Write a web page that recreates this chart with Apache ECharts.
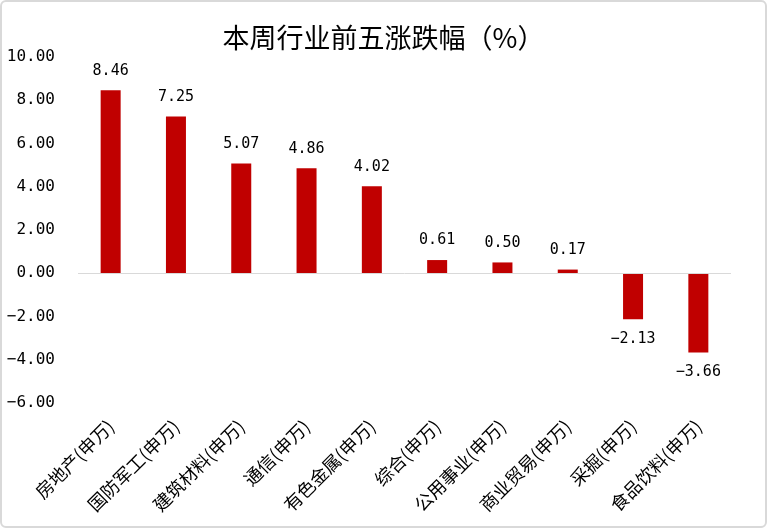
<!DOCTYPE html>
<html><head><meta charset="utf-8">
<script src="https://cdn.jsdelivr.net/npm/echarts@6/dist/echarts.min.js"></script>
<style>html,body{margin:0;padding:0;background:#fff;}#c{width:767px;height:528px;}
#frame{position:absolute;left:0;top:0;width:763px;height:524px;border:2px solid #d9d9d9;border-radius:6px;pointer-events:none;}</style>
</head><body><div id="c"></div><div id="frame"></div>
<script>
const categories = ['房地产(申万)','国防军工(申万)','建筑材料(申万)','通信(申万)','有色金属(申万)','综合(申万)','公用事业(申万)','商业贸易(申万)','采掘(申万)','食品饮料(申万)'];
const values = [8.46, 7.25, 5.07, 4.86, 4.02, 0.61, 0.50, 0.17, -2.13, -3.66];
const yMin = -6, yMax = 10, yStep = 2;
const font = '"Noto Sans CJK SC", sans-serif';
const numFont = '"DejaVu Sans Mono", monospace';
const fmt = v => v.toFixed(2).replace('-', '−');
const chart = echarts.init(document.getElementById('c'));
chart.setOption({
  animation: false,
  title: { text: '本周行业前五涨跌幅（%）', left: 'center', top: 19, textStyle: { fontFamily: font, fontSize: 27, fontWeight: 'normal', color: '#000' } },
  grid: { left: 78, right: 36, top: 57, bottom: 125, outerBoundsMode: 'none', containLabel: false },
  xAxis: {
    type: 'category', data: categories,
    axisLine: { show: false, onZero: false }, axisTick: { show: false },
    axisLabel: { rotate: 45, interval: 0, fontFamily: font, fontSize: 18, color: '#000', margin: 20 }
  },
  yAxis: {
    type: 'value', min: yMin, max: yMax, interval: yStep,
    splitLine: { show: false }, axisLine: { show: false }, axisTick: { show: false },
    axisLabel: { formatter: fmt, fontFamily: numFont, fontSize: 16, color: '#000', margin: 23 }
  },
  series: [{
    type: 'bar', data: values, barWidth: 20,
    itemStyle: { color: '#C00000' },
    label: { show: true, position: 'outside', formatter: p => fmt(p.value), fontFamily: numFont, fontSize: 15, color: '#000', distance: 12 },
    markLine: { silent: true, symbol: 'none', label: { show: false }, lineStyle: { color: '#d9d9d9', type: 'solid', width: 1 }, data: [{ yAxis: 0 }] }
  }]
});
</script></body></html>
